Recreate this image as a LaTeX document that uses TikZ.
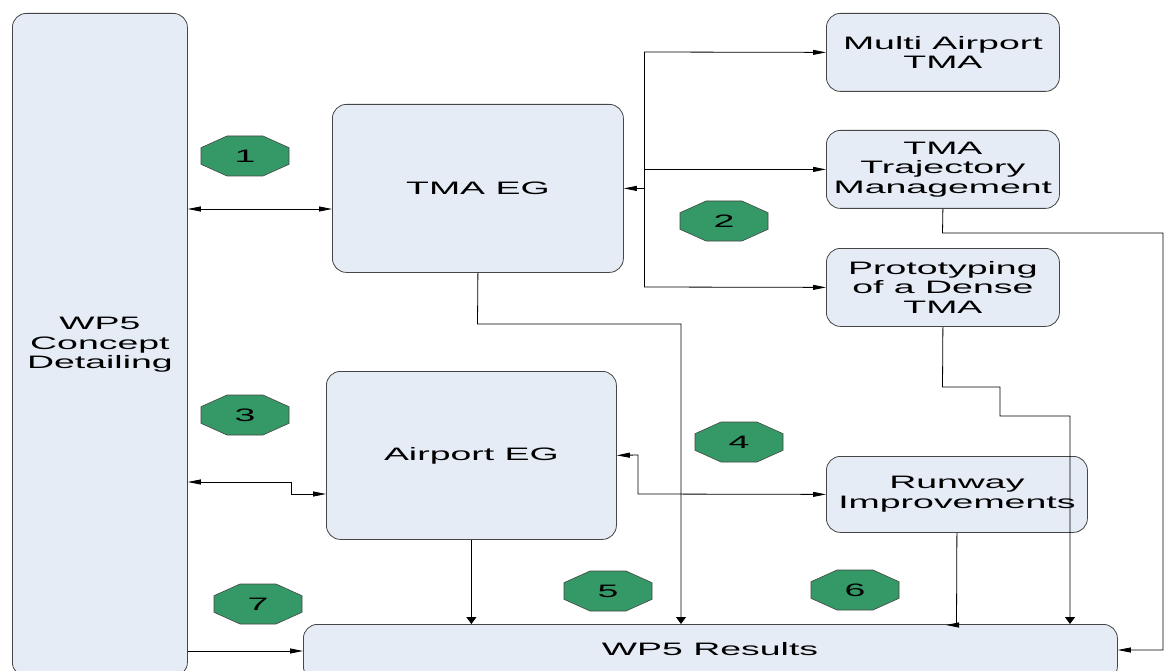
\documentclass[tikz,border=0pt]{standalone}
\usepackage{fontspec}
\setmainfont[FakeStretch=2.08]{Liberation Sans}
\usetikzlibrary{arrows.meta,calc}
\definecolor{boxfill}{RGB}{230,236,246}
\definecolor{octgreen}{RGB}{52,153,102}
\definecolor{edgegray}{RGB}{70,70,70}
\tikzset{
  ht/.tip={Triangle[length=13pt,width=5pt]},
  vt/.tip={Triangle[length=7pt,width=10pt]},
  box/.style={draw=edgegray, fill=boxfill, rounded corners=14pt, line width=0.8pt,
    align=center, inner sep=0pt, anchor=north west,
    font=\fontsize{18}{19.5}\selectfont},
  lbl/.style={align=center, inner sep=0pt, font=\fontsize{18}{19.5}\selectfont},
  octshape/.style={fill=octgreen, draw=edgegray, line width=0.6pt},
  conn/.style={draw=black, line width=0.8pt},
  hto/.style={conn, -ht},
  hboth/.style={conn, ht-ht},
  vto/.style={conn, -vt}
}
\newcommand{\octbadge}[4]{%
  \draw[octshape] (#2-18,#3-20) -- (#2+18,#3-20) -- (#2+44,#3-8.3) -- (#2+44,#3+8.3)
    -- (#2+18,#3+20) -- (#2-18,#3+20) -- (#2-44,#3+8.3) -- (#2-44,#3-8.3) -- cycle;
  \node[lbl] (#1) at (#2,#3) {#4};}
\begin{document}
\begin{tikzpicture}[x=1pt,y=-1pt]
\useasboundingbox (0,0) rectangle (1164,671);
\clip (0,0) rectangle (1164,671);
\fill[white] (0,0) rectangle (1164,671);

% boxes
\node[box, minimum width=175pt, minimum height=663pt] (wpcd) at (12,13) {WP5\\Concept\\Detailing};
\node[box, minimum width=291pt, minimum height=168pt] (tmaeg) at (332,104) {TMA EG};
\node[box, minimum width=233pt, minimum height=78pt] (multi) at (826,13) {Multi Airport\\TMA};
\node[box, minimum width=233pt, minimum height=78pt] (traj) at (826,130) {TMA\\Trajectory\\Management};
\node[box, minimum width=233pt, minimum height=78pt] (proto) at (826,248) {Prototyping\\of a Dense\\TMA};
\node[box, minimum width=290pt, minimum height=168pt] (airport) at (326,371) {Airport EG};
\node[box, minimum width=261pt, minimum height=76pt] (runway) at (826,456) {Runway\\Improvements};
\node[box, minimum width=814pt, minimum height=56pt] (results) at (303,624) {};
\node[lbl] (resultslbl) at (710,649) {WP5 Results};

% helper coordinates
\coordinate (h209) at (0,209);
\coordinate (h482) at (0,482);
\coordinate (h494) at (0,494);
\coordinate (h651) at (0,651);
\coordinate (h650) at (0,650);
\coordinate (jtop) at (644,52);
\coordinate (jbot) at (644,287);
\coordinate (v681) at (681,0);
\coordinate (v1070) at (1070,0);

% connectors
\draw[hboth] (wpcd.east |- h209) -- (tmaeg.west |- h209);
\draw[conn] (jtop) -- (jbot);
\draw[hto] (jtop |- tmaeg.east) -- (tmaeg.east);
\draw[hto] (jtop) -- (multi.west);
\draw[hto] (jtop |- traj.west) -- (traj.west);
\draw[hto] (jbot) -- (proto.west);
\draw[hboth] (wpcd.east |- h482) -- (291,482) -- (291,494) -- (airport.west |- h494);
\draw[hboth] (airport.east) -- (638,455) -- (638,494) -- (runway.west);
\draw[vto] (tmaeg.south) -- (477.5,324) -- (681,324) -- (v681 |- results.north);
\draw[vto] (airport.south) -- (airport.south |- results.north);
\draw[hto] (traj.south) -- (942.5,233) -- (1163,233) -- (1163,650) -- (results.east |- h650);
\draw[vto] (proto.south) -- (942.5,387) -- (1000,387) -- (1000,416) -- (1070,416) -- (v1070 |- results.north);
\draw[hto] (runway.south) -- (956.5,625) -- (946,625);
\draw[hto] (wpcd.east |- h651) -- (results.west |- h651);

% badges
\octbadge{o1}{245}{156}{1}
\octbadge{o2}{724}{221}{2}
\octbadge{o3}{245}{415}{3}
\octbadge{o4}{739}{442}{4}
\octbadge{o5}{608}{591}{5}
\octbadge{o6}{855}{590}{6}
\octbadge{o7}{258}{604}{7}
\end{tikzpicture}
\end{document}
